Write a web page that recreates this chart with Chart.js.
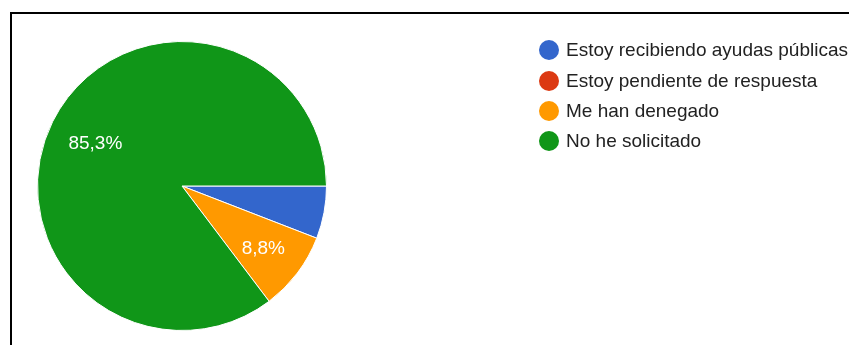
<!DOCTYPE html>
<html>
<head>
<meta charset="utf-8">
<script src="https://cdn.jsdelivr.net/npm/chart.js@4.4.0/dist/chart.umd.min.js"></script>
<style>
    html, body
    {
        margin: 0;
        padding: 0;
        background: #ffffff;
        overflow: hidden;
    }
    #wrap
    {
        position: relative;
        width: 849px;
        height: 345px;
    }
    #frame
    {
        position: absolute;
        left: 10px;
        top: 12px;
        width: 900px;
        height: 400px;
        border: 2px solid #000000;
    }
    #myChart
    {
        position: absolute;
        left: 0;
        top: 0;
    }
    #legend
    {
        position: absolute;
        left: 539px;
        top: 35px;
        margin: 0;
        padding: 0;
        list-style: none;
        font-family: Arial, "Liberation Sans", sans-serif;
        font-size: 19px;
        color: #222222;
        white-space: nowrap;
    }
    #legend li
    {
        display: flex;
        align-items: center;
        height: 30.4px;
    }
    #legend span
    {
        flex: none;
        width: 20px;
        height: 20px;
        border-radius: 50%;
        margin-right: 7px;
    }
</style>
</head>
<body>
<div id="wrap">
    <div id="frame"></div>
    <canvas id="myChart" width="849" height="345"></canvas>
    <ul id="legend"></ul>
</div>
<script>
const respuestas = ['Estoy recibiendo ayudas públicas', 'Estoy pendiente de respuesta', 'Me han denegado', 'No he solicitado']
const cantidades = [2, 0, 3, 29]
const colores = ['#3366cc', '#dc3912', '#ff9900', '#109618']

// etiquetas de porcentaje dentro de los sectores grandes
const porcentajes =
{
    id: 'porcentajes',
    afterDatasetsDraw(chart)
    {
        const ctx = chart.ctx
        const meta = chart.getDatasetMeta(0)
        const total = cantidades.reduce((a, b) => a + b, 0)

        ctx.save()
        ctx.fillStyle = '#ffffff'
        ctx.font = '19px Arial, "Liberation Sans", sans-serif'
        ctx.textAlign = 'center'
        ctx.textBaseline = 'middle'

        meta.data.forEach((arc, i) =>
        {
            const p = cantidades[i] / total
            if (p < 0.07) return

            const mid = (arc.startAngle + arc.endAngle) / 2
            // los sectores estrechos llevan la etiqueta un poco más afuera
            const r = arc.outerRadius * (p < 0.25 ? 0.705 : 0.67)
            const texto = (p * 100).toFixed(1).replace('.', ',') + '%'
            ctx.fillText(texto, arc.x + Math.cos(mid) * r, arc.y + Math.sin(mid) * r + 1)
        })
        ctx.restore()
    }
}

var ctx = document.getElementById('myChart');

new Chart(ctx,
{
    type: 'pie',
    data:
    {
        labels: respuestas,
        datasets:
        [
            {
                data: cantidades,
                backgroundColor: colores,
                borderColor: '#ffffff',
                borderWidth: 1
            }
        ]
    },
    options:
    {
        responsive: false,
        animation: false,
        events: [],
        rotation: 90,
        layout:
        {
            padding: { left: 37, top: 41, right: 522, bottom: 14 }
        },
        plugins:
        {
            legend: { display: false },
            tooltip: { enabled: false }
        }
    },
    plugins: [porcentajes]
});

const legend = document.getElementById('legend')

for (let i = 0; i < respuestas.length; i++)
{
    const li = document.createElement('li')
    const dot = document.createElement('span')
    dot.style.background = colores[i]
    li.appendChild(dot)
    li.appendChild(document.createTextNode(respuestas[i]))
    legend.appendChild(li)
}
</script>
</body>
</html>
